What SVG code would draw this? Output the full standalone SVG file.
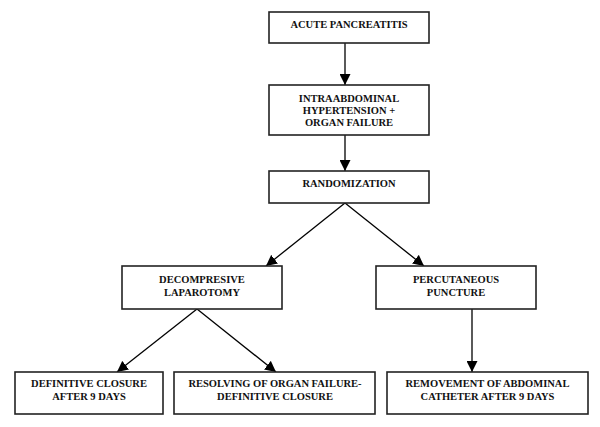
<svg xmlns="http://www.w3.org/2000/svg" width="600" height="427" viewBox="0 0 600 427">
<style>
.box{fill:#fff;stroke:#222;stroke-width:1.6}
.t{font-family:"Liberation Serif","Times New Roman",serif;font-weight:bold;font-size:10.5px;fill:#111;text-anchor:middle}
.c{stroke:#000;stroke-width:1.3;fill:none;marker-end:url(#ah)}
</style>
<defs>
<marker id="ah" viewBox="0 0 10 10" refX="10" refY="5" markerWidth="11" markerHeight="11" markerUnits="userSpaceOnUse" orient="auto">
<path d="M0,0 L10,5 L0,10 z" fill="#000"/>
</marker>
</defs>
<rect width="600" height="427" fill="#fff"/>
<g id="connectors">
<line class="c" x1="345" y1="43" x2="345" y2="85"/>
<line class="c" x1="345" y1="135" x2="345" y2="171"/>
<line class="c" x1="345" y1="203" x2="266" y2="266"/>
<line class="c" x1="345" y1="203" x2="424" y2="266"/>
<line class="c" x1="197" y1="309" x2="117" y2="372"/>
<line class="c" x1="197" y1="309" x2="276" y2="372"/>
<line class="c" x1="472" y1="309" x2="472" y2="372"/>
</g>
<g id="n1"><rect class="box" x="269" y="12" width="160" height="31"/><text class="t" x="349" y="28">ACUTE PANCREATITIS</text></g>
<g id="n2"><rect class="box" x="269" y="85" width="160" height="50"/><text class="t" x="349" y="102">INTRAABDOMINAL</text><text class="t" x="349" y="114">HYPERTENSION +</text><text class="t" x="349" y="126">ORGAN FAILURE</text></g>
<g id="n3"><rect class="box" x="269" y="171" width="160" height="32"/><text class="t" x="349" y="187">RANDOMIZATION</text></g>
<g id="n4"><rect class="box" x="122" y="266" width="160" height="43"/><text class="t" x="202" y="283">DECOMPRESIVE</text><text class="t" x="202" y="296">LAPAROTOMY</text></g>
<g id="n5"><rect class="box" x="376" y="266" width="160" height="43"/><text class="t" x="456" y="283">PERCUTANEOUS</text><text class="t" x="456" y="296">PUNCTURE</text></g>
<g id="n6"><rect class="box" x="15" y="372" width="148" height="42"/><text class="t" x="89" y="387">DEFINITIVE CLOSURE</text><text class="t" x="89" y="399.5">AFTER 9 DAYS</text></g>
<g id="n7"><rect class="box" x="174" y="372" width="201" height="42"/><text class="t" x="275" y="387">RESOLVING OF ORGAN FAILURE-</text><text class="t" x="275" y="399.5">DEFINITIVE CLOSURE</text></g>
<g id="n8"><rect class="box" x="387" y="372" width="201" height="42"/><text class="t" x="487.5" y="387">REMOVEMENT OF ABDOMINAL</text><text class="t" x="487.5" y="399.5">CATHETER AFTER 9 DAYS</text></g>
</svg>
